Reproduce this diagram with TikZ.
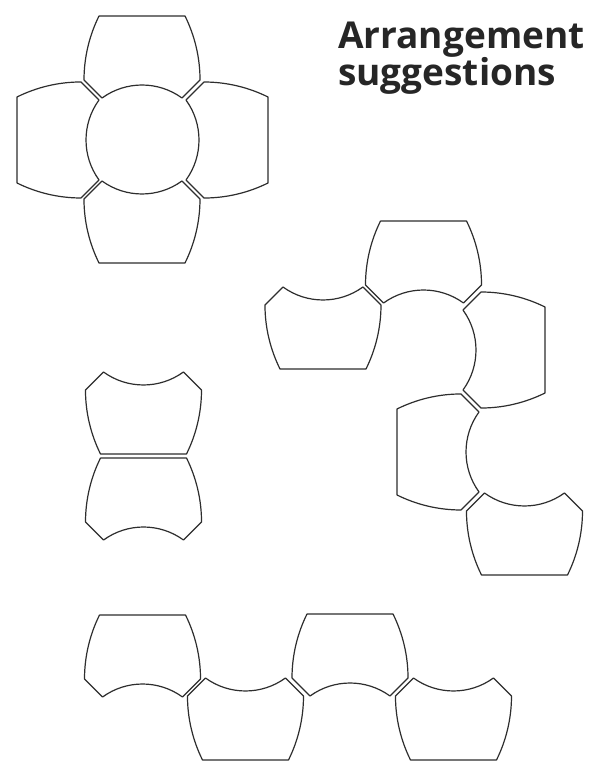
\documentclass[tikz,border=0pt]{standalone}
\usepackage{fontspec}
\setsansfont{Open Sans}
\begin{document}
\begin{tikzpicture}[x=1pt,y=1pt,
  tileline/.style={draw=black!82, line width=1.2pt, line join=round},
  pics/tile/.style={code={
    \draw[tileline] (-43,0) -- (43,0)
      arc[start angle=26.4, end angle=0, radius=144]
      -- (40,-82)
      arc[start angle=54, end angle=126, radius=68]
      -- (-58,-64)
      arc[start angle=180, end angle=153.6, radius=144]
      -- cycle;
  }},
  titletext/.style={anchor=base west, inner sep=0pt, font=\sffamily\bfseries\fontsize{37}{39}\selectfont, text=black!85}
]
\fill[white] (0,0) rectangle (595,761);
\useasboundingbox (0,0) rectangle (595,761);

% flower arrangement
\pic (f1) at (142,745) {tile};
\pic[rotate=180] (f2) at (142,498) {tile};
\pic[rotate=90] (f3) at (17,621) {tile};
\pic[rotate=-90] (f4) at (268,621) {tile};

% winding arrangement
\pic (s1) at (423.5,540) {tile};
\pic[rotate=180] (s2) at (323,392) {tile};
\pic[rotate=-90] (s3) at (545,411) {tile};
\pic[rotate=90] (s4) at (397,309) {tile};
\pic[rotate=180] (s5) at (524.5,186) {tile};

% pair
\pic[rotate=180] (m1) at (143.5,307) {tile};
\pic (m2) at (143.5,303) {tile};

% row
\pic (b1) at (142.5,146) {tile};
\pic[rotate=180] (b2) at (245.5,1) {tile};
\pic (b3) at (350,147) {tile};
\pic[rotate=180] (b4) at (453.5,1) {tile};

\node[titletext] (title1) at (338,712) {Arrangement};
\node[titletext] (title2) at (338,675) {suggestions};
\end{tikzpicture}
\end{document}
